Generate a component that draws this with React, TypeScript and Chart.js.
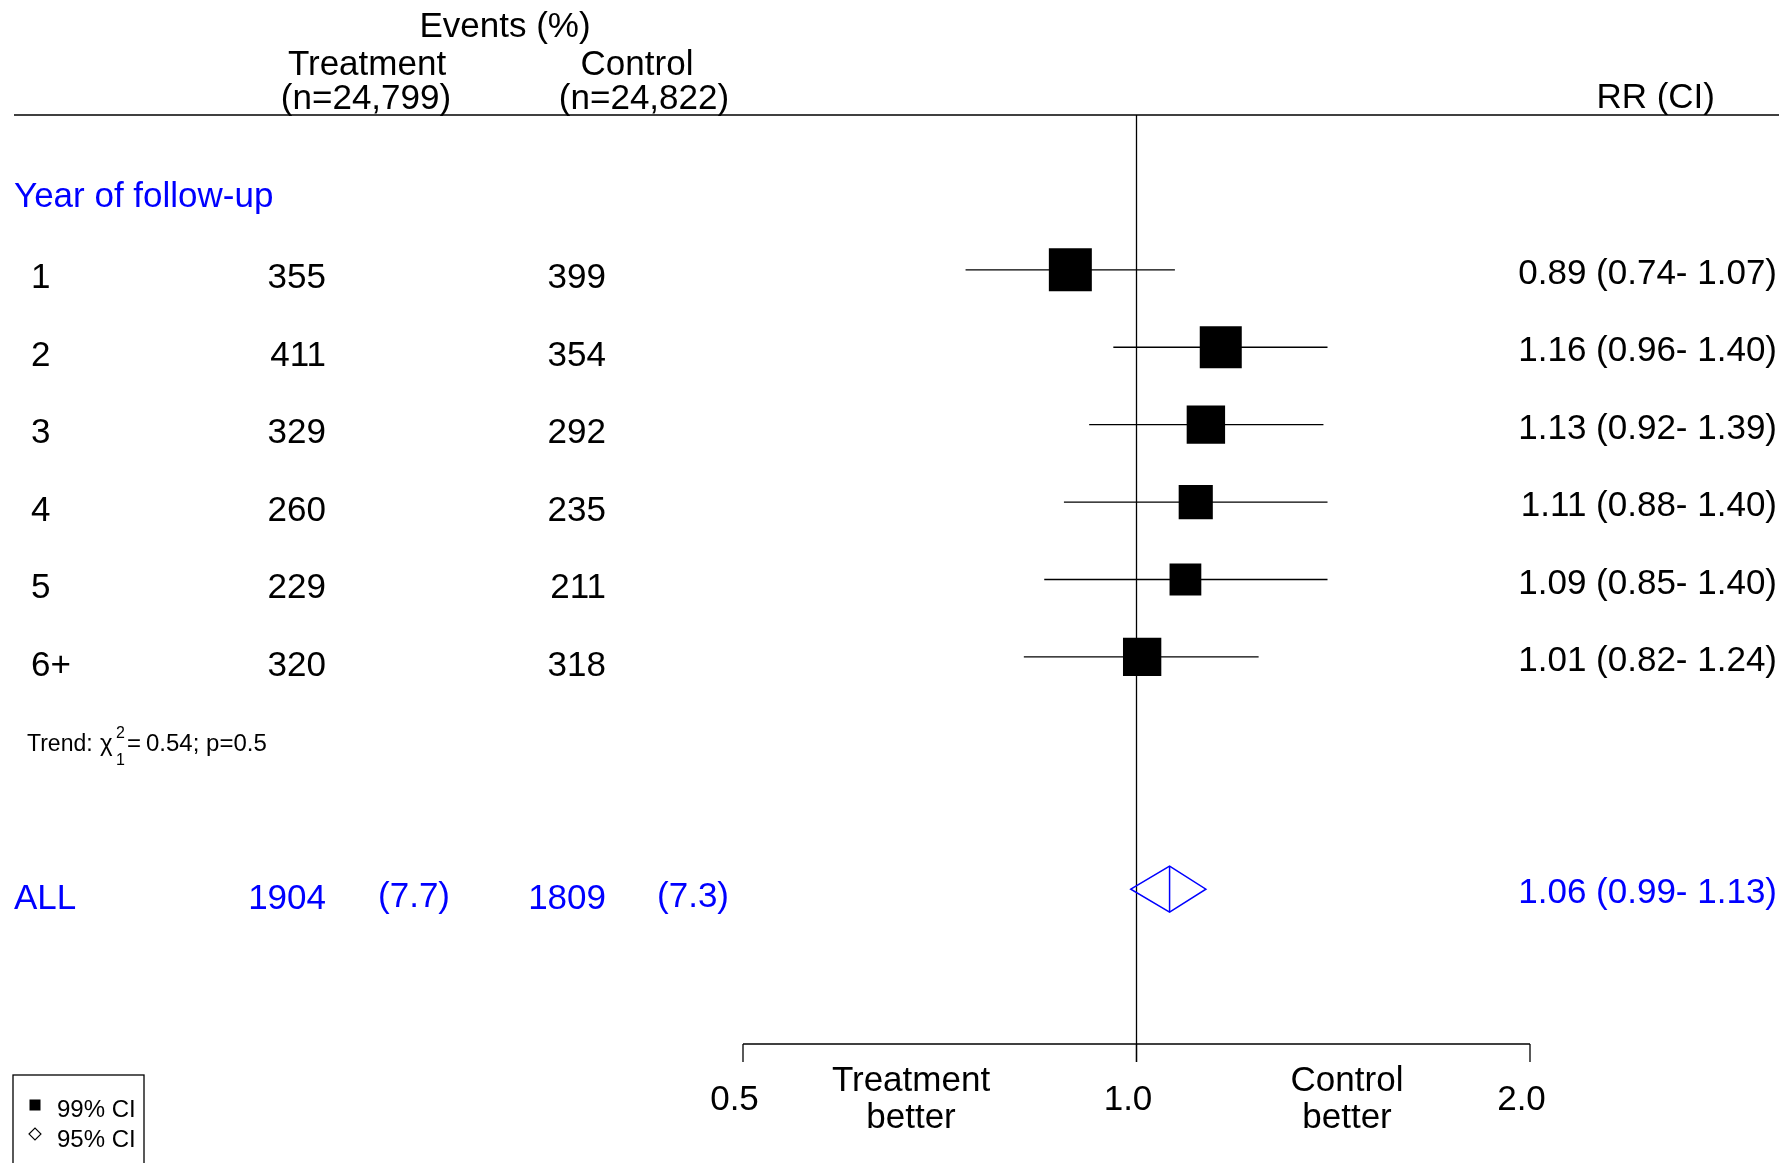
import React, { useEffect, useRef } from 'react';
import { Chart, registerables } from 'chart.js';

Chart.register(...registerables);

// ---------------- data ----------------
const years = ['1', '2', '3', '4', '5', '6+'];
const treatmentEvents = [355, 411, 329, 260, 229, 320];
const controlEvents = [399, 354, 292, 235, 211, 318];
const rrEstimate = [0.89, 1.16, 1.13, 1.11, 1.09, 1.01];
const ciLower = [0.74, 0.96, 0.92, 0.88, 0.85, 0.82];
const ciUpper = [1.07, 1.4, 1.39, 1.4, 1.4, 1.24];

const totalTreatment = 1904;
const totalTreatmentPct = 7.7;
const totalControl = 1809;
const totalControlPct = 7.3;
const overallRR = 1.06;
const overallLower = 0.99;
const overallUpper = 1.13;

const nTreatment = '24,799';
const nControl = '24,822';
const trendChi2 = 0.54;
const trendP = 0.5;

const xTicks = [0.5, 1.0, 2.0];
const xTickLabels = ['0.5', '1.0', '2.0'];

// ---------------- layout constants ----------------
const W = 1779;
const H = 1163;
const HEADER_ROW = 0;
const GROUP_ROW = 1;
const FIRST_ROW = 2;
const TREND_ROW = 8;
const ALL_ROW = 10;
const AXIS_ROW = 12;
const BOX_K = 15.85; // square side (px) * log CI width
const FONT = '"Liberation Sans", Arial, Helvetica, sans-serif';
const FS = 35;
const DY = 3;
const BLUE = '#0000ff';

const fmt = (v: number) => v.toFixed(2);
const ciText = (e: number, l: number, u: number) => `${fmt(e)} (${fmt(l)}- ${fmt(u)})`;

function txt(ctx: CanvasRenderingContext2D, s: string, x: number, y: number, align: CanvasTextAlign, size = FS, color = '#000', baseline: CanvasTextBaseline = 'middle') {
  ctx.font = `${size}px ${FONT}`;
  ctx.fillStyle = color;
  ctx.textAlign = align;
  ctx.textBaseline = baseline;
  ctx.fillText(s, x, baseline === 'middle' ? y + DY : y);
}

function seg(ctx: CanvasRenderingContext2D, x1: number, y1: number, x2: number, y2: number) {
  ctx.beginPath();
  ctx.moveTo(x1, y1);
  ctx.lineTo(x2, y2);
  ctx.stroke();
}

const forestPlugin = {
  id: 'forest',
  beforeDatasetsDraw(chart: any) {
    const { ctx } = chart;
    const x = chart.scales.x;
    const y = chart.scales.y;
    ctx.save();
    ctx.strokeStyle = '#000';
    ctx.lineWidth = 1.3;
    const yHead = y.getPixelForValue(HEADER_ROW);
    const yAxis = y.getPixelForValue(AXIS_ROW);
    // header rule
    seg(ctx, 14, yHead, W, yHead);
    // reference line at 1.0
    const x1 = x.getPixelForValue(1);
    seg(ctx, x1, yHead, x1, yAxis + 18);
    // CI lines
    years.forEach((_, i) => {
      const yy = y.getPixelForValue(FIRST_ROW + i);
      seg(ctx, x.getPixelForValue(ciLower[i]), yy, x.getPixelForValue(ciUpper[i]), yy);
    });
    // axis
    const xa = x.getPixelForValue(xTicks[0]);
    const xb = x.getPixelForValue(xTicks[xTicks.length - 1]);
    seg(ctx, xa, yAxis, xb, yAxis);
    xTicks.forEach((t) => {
      const xt = x.getPixelForValue(t);
      seg(ctx, xt, yAxis, xt, yAxis + 18);
    });
    ctx.restore();
  },
  afterDatasetsDraw(chart: any) {
    const { ctx } = chart;
    const x = chart.scales.x;
    const y = chart.scales.y;
    ctx.save();
    const yAxis = y.getPixelForValue(AXIS_ROW);

    // column headers
    txt(ctx, 'Events (%)', 505, 24, 'center');
    txt(ctx, 'Treatment', 367, 62, 'center');
    txt(ctx, `(n=${nTreatment})`, 366, 96, 'center');
    txt(ctx, 'Control', 637, 62, 'center');
    txt(ctx, `(n=${nControl})`, 644, 96, 'center');
    txt(ctx, 'RR (CI)', 1715, 95, 'right');

    // group heading
    txt(ctx, 'Year of follow-up', 14, y.getPixelForValue(GROUP_ROW) + 2, 'left', FS, BLUE);

    // rows
    years.forEach((label, i) => {
      const yy = y.getPixelForValue(FIRST_ROW + i);
      txt(ctx, label, 31, yy + 6, 'left');
      txt(ctx, String(treatmentEvents[i]), 326, yy + 6, 'right');
      txt(ctx, String(controlEvents[i]), 606, yy + 6, 'right');
      txt(ctx, ciText(rrEstimate[i], ciLower[i], ciUpper[i]), 1777, yy + 1.5, 'right');
    });

    // trend
    const yb = y.getPixelForValue(TREND_ROW) + 17;
    txt(ctx, 'Trend:', 27, yb, 'left', 23, '#000', 'alphabetic');
    txt(ctx, '\u03C7', 100, yb, 'left', 24, '#000', 'alphabetic');
    txt(ctx, '2', 116, yb - 13, 'left', 16, '#000', 'alphabetic');
    txt(ctx, '1', 116, yb + 14, 'left', 16, '#000', 'alphabetic');
    txt(ctx, '=', 127, yb, 'left', 24, '#000', 'alphabetic');
    txt(ctx, `${trendChi2.toFixed(2)}; p=${trendP}`, 146, yb, 'left', 24, '#000', 'alphabetic');

    // overall
    const ya = y.getPixelForValue(ALL_ROW);
    txt(ctx, 'ALL', 14, ya + 7, 'left', FS, BLUE);
    txt(ctx, String(totalTreatment), 326, ya + 7, 'right', FS, BLUE);
    txt(ctx, `(${totalTreatmentPct.toFixed(1)})`, 450, ya + 5.5, 'right', FS, BLUE);
    txt(ctx, String(totalControl), 606, ya + 7, 'right', FS, BLUE);
    txt(ctx, `(${totalControlPct.toFixed(1)})`, 729, ya + 5.5, 'right', FS, BLUE);
    txt(ctx, ciText(overallRR, overallLower, overallUpper), 1777, ya + 1.5, 'right', FS, BLUE);

    // diamond
    const xl = x.getPixelForValue(overallLower);
    const xe = x.getPixelForValue(overallRR);
    const xu = x.getPixelForValue(overallUpper);
    ctx.strokeStyle = BLUE;
    ctx.lineWidth = 1.5;
    ctx.beginPath();
    ctx.moveTo(xl, ya);
    ctx.lineTo(xe, ya - 23);
    ctx.lineTo(xu, ya);
    ctx.lineTo(xe, ya + 23);
    ctx.closePath();
    ctx.stroke();
    seg(ctx, xe, ya - 23, xe, ya + 23);

    // axis labels
    xTicks.forEach((t, i) => {
      txt(ctx, xTickLabels[i], x.getPixelForValue(t) - 8.5, yAxis + 53, 'center');
    });
    txt(ctx, 'Treatment', 911, yAxis + 34, 'center');
    txt(ctx, 'better', 911, yAxis + 71, 'center');
    txt(ctx, 'Control', 1347, yAxis + 34, 'center');
    txt(ctx, 'better', 1347, yAxis + 71, 'center');

    // legend
    ctx.strokeStyle = '#000';
    ctx.lineWidth = 1.3;
    ctx.strokeRect(13, 1075, 131, 120);
    ctx.fillStyle = '#000';
    ctx.fillRect(29.5, 1099.5, 11, 11);
    txt(ctx, '99% CI', 57, 1117, 'left', 24, '#000', 'alphabetic');
    ctx.lineWidth = 1.1;
    ctx.beginPath();
    ctx.moveTo(29, 1134);
    ctx.lineTo(35, 1128);
    ctx.lineTo(41, 1134);
    ctx.lineTo(35, 1140);
    ctx.closePath();
    ctx.stroke();
    txt(ctx, '95% CI', 57, 1147, 'left', 24, '#000', 'alphabetic');

    ctx.restore();
  },
};

export default function App() {
  const ref = useRef<HTMLCanvasElement | null>(null);
  useEffect(() => {
    if (!ref.current) return;
    const radii = years.map((_, i) => BOX_K / Math.log(ciUpper[i] / ciLower[i]) / Math.SQRT2);
    const chart = new Chart(ref.current, {
      type: 'scatter',
      data: {
        datasets: [
          {
            data: years.map((_, i) => ({ x: rrEstimate[i], y: FIRST_ROW + i })),
            pointStyle: 'rect',
            pointRadius: radii,
            pointHoverRadius: radii,
            pointBackgroundColor: '#000',
            pointBorderWidth: 0,
            pointHoverBorderWidth: 0,
            showLine: false,
          } as any,
        ],
      },
      options: {
        responsive: false,
        animation: false,
        devicePixelRatio: 1,
        events: [],
        layout: { padding: { left: 743, right: W - 1530, top: 115, bottom: H - 1044 } },
        scales: {
          x: { type: 'logarithmic', min: 0.5, max: 2, display: false, bounds: 'data' } as any,
          y: { type: 'linear', min: 0, max: AXIS_ROW, reverse: true, display: false, bounds: 'data' } as any,
        },
        plugins: { legend: { display: false }, tooltip: { enabled: false } },
      },
      plugins: [forestPlugin as any],
    });
    return () => chart.destroy();
  }, []);
  return (
    <div style={{ position: 'fixed', left: 0, top: 0, width: W, height: H, background: '#fff', overflow: 'hidden' }}>
      <canvas ref={ref} width={W} height={H} style={{ display: 'block', width: W, height: H }} />
    </div>
  );
}
